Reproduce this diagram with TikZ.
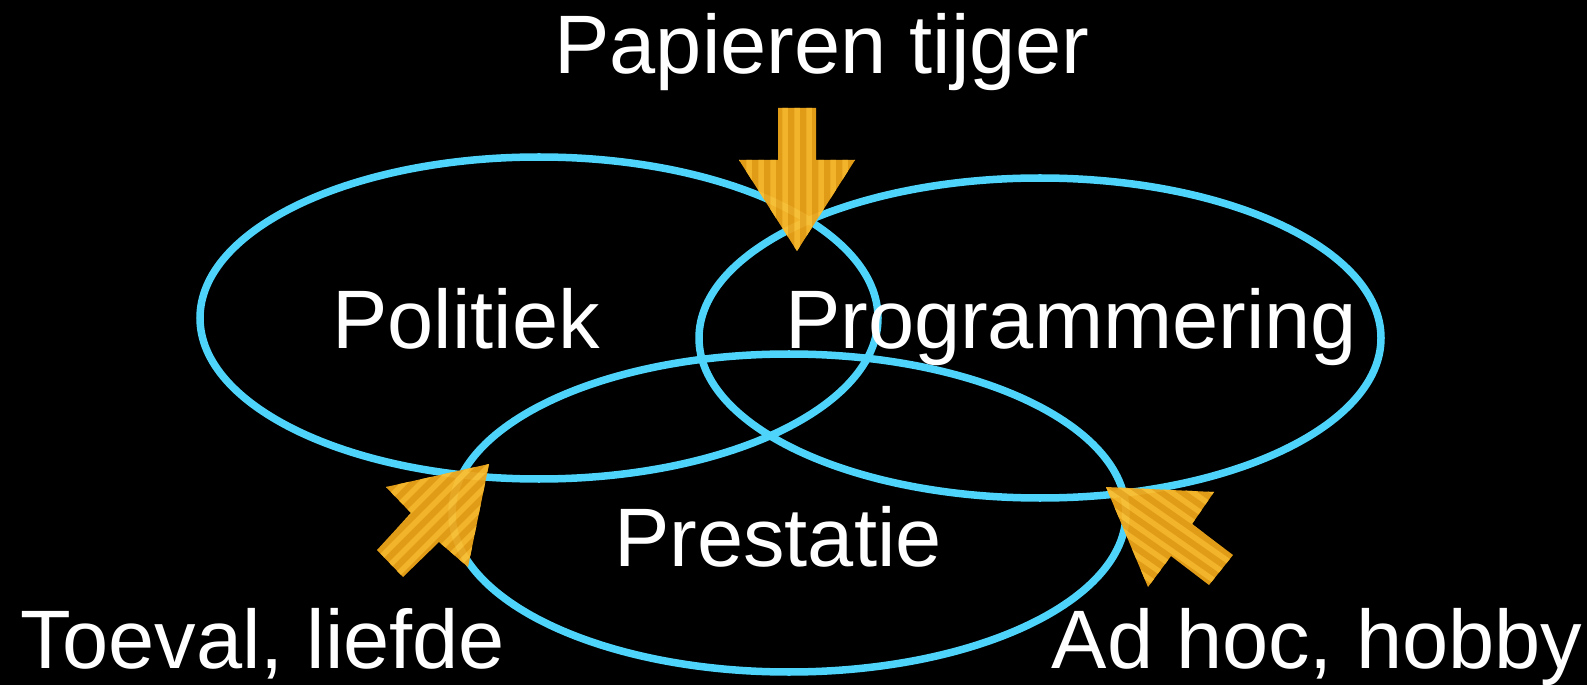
\documentclass[tikz,border=0pt]{standalone}
\usepackage{fontspec}
\setmainfont{Liberation Sans}
\definecolor{ringblue}{RGB}{78,212,250}
\definecolor{arroworange}{RGB}{238,165,25}
\definecolor{stripeorange}{RGB}{255,190,45}
\tikzset{
  ring/.style={draw=ringblue, line width=0.075cm},
  label/.style={text=white, font=\fontsize{23.6}{28}\selectfont, anchor=base, inner sep=0pt},
  stripe/.style={draw=stripeorange, line width=0.055cm},
}
\newcommand\stripedarrow[3]{%
  \begin{scope}[opacity=0.95, transparency group]
    \fill[arroworange] #1;
    \begin{scope}
      \clip #1;
      \begin{scope}[shift={#2}, rotate=#3]
        \foreach \i in {-12,...,12} \draw[stripe] (\i*12,-200) -- (\i*12,200);
      \end{scope}
    \end{scope}
  \end{scope}}
\begin{document}
\begin{tikzpicture}[x=0.01cm, y=-0.01cm]
  \fill[black] (0,0) rectangle (1587,685);
  \useasboundingbox (0,0) rectangle (1587,685);
  % ellipses
  \draw[ring] (539,318) ellipse [x radius=339, y radius=161];
  \draw[ring] (1040,338) ellipse [x radius=341, y radius=160];
  \draw[ring] (789,513) ellipse [x radius=337, y radius=159];
  % arrows
  \stripedarrow{(778,108) -- (816,108) -- (816,160) -- (855,160) -- (797,251) -- (739,160) -- (778,160) -- cycle}{(797,180)}{0}
  \stripedarrow{(489,464) -- (468,567) -- (439,542) -- (403,577) -- (377,550) -- (411,513) -- (386,487) -- cycle}{(440,515)}{-45}
  \stripedarrow{(1106,487) -- (1214,492) -- (1192,524) -- (1233,555) -- (1209,585) -- (1171,556) -- (1148,587) -- cycle}{(1170,535)}{55}
  % labels
  \node[label] (tijger) at (822,74) {Papieren tijger};
  \node[label] (politiek) at (466,349) {Politiek};
  \node[label] (programmering) at (1071,349) {Programmering};
  \node[label] (prestatie) at (778,567) {Prestatie};
  \node[label] (toeval) at (263,668) {Toeval, liefde};
  \node[label] (adhoc) at (1317,668) {Ad hoc, hobby};
\end{tikzpicture}
\end{document}
